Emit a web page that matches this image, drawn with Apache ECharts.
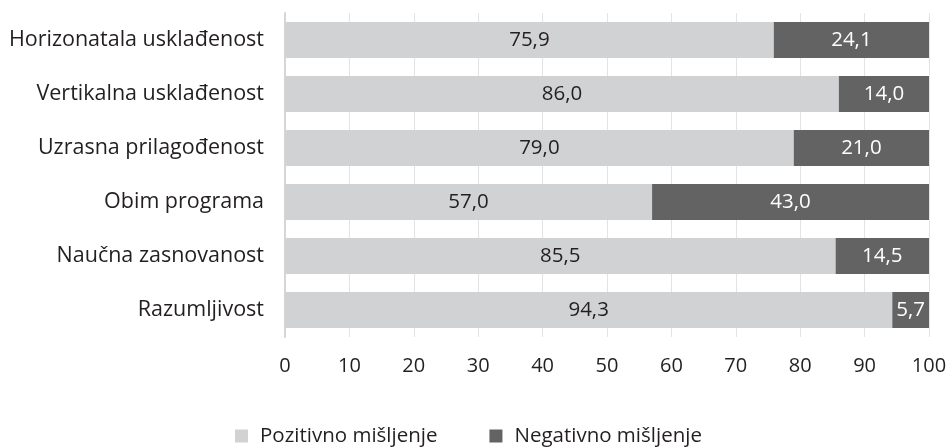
<!DOCTYPE html>
<html>
<head>
<meta charset="utf-8">
<script src="https://cdn.jsdelivr.net/npm/echarts@6/dist/echarts.min.js"></script>
<style>
  html, body { margin: 0; padding: 0; background: #fff; }
  #chart { width: 950px; height: 448px; }
</style>
</head>
<body>
<div id="chart"></div>
<script>
// Categories listed top to bottom
const categories = [
  'Horizonatala usklađenost',
  'Vertikalna usklađenost',
  'Uzrasna prilagođenost',
  'Obim programa',
  'Naučna zasnovanost',
  'Razumljivost'
];
const positive = [75.9, 86.0, 79.0, 57.0, 85.5, 94.3];
const negative = [24.1, 14.0, 21.0, 43.0, 14.5, 5.7];
const seriesNames = ['Pozitivno mišljenje', 'Negativno mišljenje'];
const xTicks = [0, 10, 20, 30, 40, 50, 60, 70, 80, 90, 100];

const FONT = '"Open Sans", "Noto Sans", sans-serif';
const fmt = v => v.toFixed(1).replace('.', ',');

const chart = echarts.init(document.getElementById('chart'), null, { renderer: 'canvas' });

chart.setOption({
  animation: false,
  textStyle: { fontFamily: FONT },
  grid: { left: 285, right: 21, top: 13, bottom: 111, containLabel: false },
  legend: {
    top: 424,
    left: 235,
    padding: 0,
    itemWidth: 13,
    itemHeight: 13,
    itemGap: 52,
    icon: 'rect',
    textStyle: { fontFamily: FONT, fontSize: 20.5, lineHeight: 24, color: '#231f20', padding: [0, 0, 0, 7] },
    data: seriesNames
  },
  xAxis: {
    type: 'value',
    min: xTicks[0],
    max: xTicks[xTicks.length - 1],
    interval: 10,
    axisLine: { show: false },
    axisTick: { show: false },
    splitLine: { show: true, lineStyle: { color: '#e3e3e3', width: 1 } },
    axisLabel: { fontFamily: FONT, fontSize: 20, color: '#231f20', margin: 19 }
  },
  yAxis: {
    type: 'category',
    inverse: true,
    data: categories,
    axisLine: { show: true, lineStyle: { color: '#d6d6d6', width: 2 } },
    axisTick: { show: false },
    axisLabel: { fontFamily: FONT, fontSize: 21.5, color: '#231f20', margin: 21 }
  },
  series: [
    {
      name: seriesNames[0],
      type: 'bar',
      stack: 'total',
      barWidth: 36,
      data: positive,
      itemStyle: { color: '#d1d2d4' },
      label: {
        show: true,
        position: 'inside',
        fontFamily: FONT,
        fontSize: 20.5,
        color: '#231f20',
        formatter: p => fmt(p.value)
      }
    },
    {
      name: seriesNames[1],
      type: 'bar',
      stack: 'total',
      barWidth: 36,
      data: negative,
      itemStyle: { color: '#636364' },
      label: {
        show: true,
        position: 'inside',
        fontFamily: FONT,
        fontSize: 20.5,
        color: '#ffffff',
        formatter: p => fmt(p.value)
      }
    }
  ]
});
</script>
</body>
</html>
